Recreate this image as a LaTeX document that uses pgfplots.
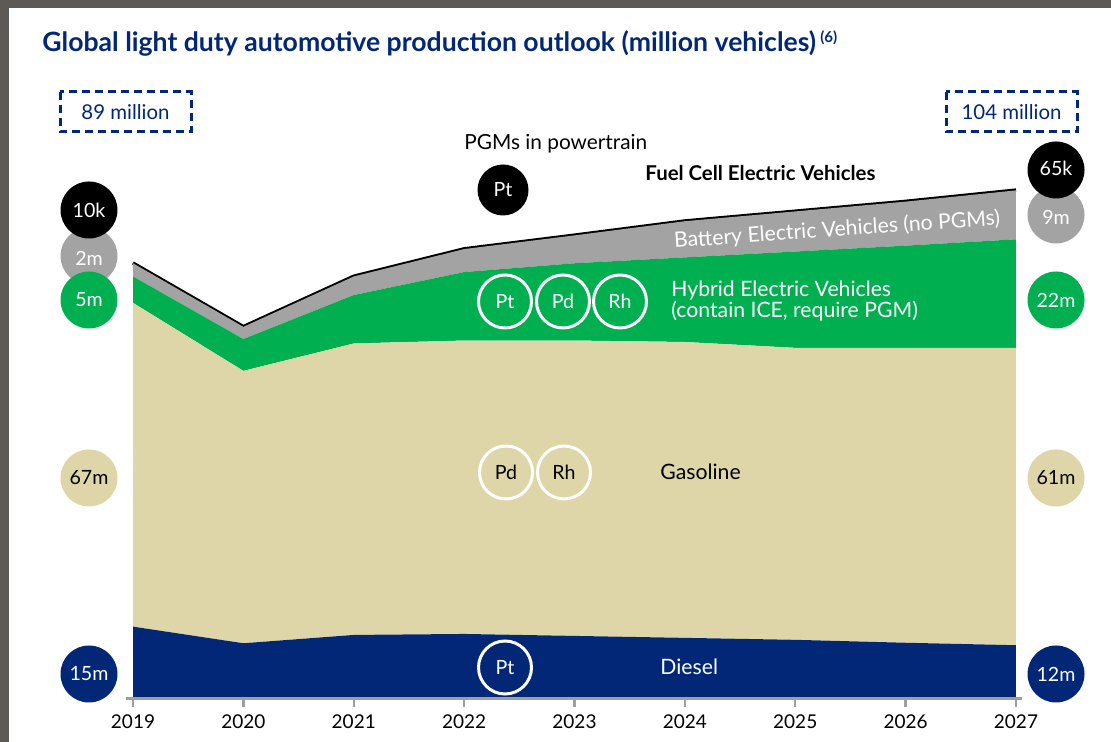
\documentclass[border=0pt]{standalone}
\usepackage{pgfplots}
\pgfplotsset{compat=1.18}
\usepackage{fontspec}
\setmainfont{Lato}
\definecolor{navy}{RGB}{1,39,118}
\definecolor{greenc}{RGB}{0,176,80}
\definecolor{greyc}{RGB}{163,163,163}
\definecolor{beige}{RGB}{222,214,168}
\definecolor{framec}{RGB}{93,89,87}
\newcommand{\fs}[1]{\fontsize{#1}{#1}\selectfont}
\tikzset{pix/.style={x=0.5pt,y=-0.5pt,shift={(0pt,371pt)}}}
\begin{document}
\begin{tikzpicture}
\begin{scope}[pix]
\useasboundingbox (0,0) rectangle (1111,742);
\fill[white] (0,0) rectangle (1111,742);
\fill[framec] (0,0) rectangle (1111,8.5);
\fill[framec] (0,0) rectangle (8.5,742);
\end{scope}

\begin{axis}[at={(66.5pt,21.5pt)}, anchor=south west, scale only axis,
  width=441.5pt, height=254.3pt,
  xmin=2019, xmax=2027, ymin=0, ymax=104, clip=false,
  stack plots=y, area style,
  axis y line=none, axis x line*=bottom,
  x axis line style={draw=gray!75, line width=1.5pt, -, shorten <=-3.5pt, shorten >=-3pt},
  xtick={2019,2020,2021,2022,2023,2024,2025,2026,2027},
  tick style={draw=gray!75, line width=1.2pt},
  major tick length=4pt, tick align=outside,
  xticklabel style={font=\fs{9.5}, text=black, /pgf/number format/1000 sep={}, yshift=-0.5pt},
  /pgf/number format/assume math mode=true,
  ]
\addplot[fill=navy, draw=none] coordinates {(2019,14.8) (2020,11.4) (2021,13.1) (2022,13.3) (2023,12.9) (2024,12.5) (2025,12.1) (2026,11.5) (2027,11.0)} \closedcycle;
\addplot[fill=beige, draw=none] coordinates {(2019,66.2) (2020,55.7) (2021,59.6) (2022,60.0) (2023,60.4) (2024,60.5) (2025,59.7) (2026,60.3) (2027,60.8)} \closedcycle;
\addplot[fill=greenc, draw=none] coordinates {(2019,5.4) (2020,6.5) (2021,9.9) (2022,14.0) (2023,15.8) (2024,17.3) (2025,19.7) (2026,20.9) (2027,22.2)} \closedcycle;
\addplot[fill=greyc, draw=none] coordinates {(2019,2.7) (2020,2.5) (2021,3.8) (2022,4.7) (2023,5.7) (2024,7.4) (2025,8.2) (2026,9.0) (2027,10.0)} \closedcycle;
\addplot[black, line width=1.7pt, fill=none] coordinates {(2019,0.05) (2020,0.05) (2021,0.05) (2022,0.05) (2023,0.05) (2024,0.05) (2025,0.05) (2026,0.06) (2027,0.065)};
\end{axis}

\begin{scope}[pix]
% title
\node[anchor=base west, inner sep=0, text=navy, font=\fs{13.3}\bfseries] at (42,52)
  {Global light duty automotive production outlook (million vehicles)\,\raisebox{0.7ex}{\fs{7.5}(6)}};
% dashed boxes
\draw[navy, line width=1.5pt, dash pattern=on 4pt off 2.5pt] (60,92) rectangle (191,132);
\node[text=navy, font=\fs{10.2}] at (125.5,112) {89 million};
\draw[navy, line width=1.5pt, dash pattern=on 4pt off 2.5pt] (946,92) rectangle (1077,132);
\node[text=navy, font=\fs{10.2}] at (1011.5,112) {104 million};
% left circles
\fill[greyc] (89,256) circle (28.5);
\fill[black] (89,210) circle (28.5);
\fill[greenc] (89,300) circle (28.5);
\fill[beige] (89,478) circle (28.5);
\fill[navy] (89,674) circle (28.5);
\node[white, font=\fs{9.8}] at (89,210) {10k};
\node[white, font=\fs{9.8}] at (89,258) {2m};
\node[white, font=\fs{9.8}] at (89,300) {5m};
\node[black, font=\fs{9.8}] at (89,478) {67m};
\node[white, font=\fs{9.8}] at (89,674) {15m};
% right circles
\fill[greyc] (1056,215) circle (28.5);
\fill[black] (1056,170) circle (28.5);
\fill[greenc] (1056,300) circle (28.5);
\fill[beige] (1056,478) circle (28.5);
\fill[navy] (1056,674) circle (28.5);
\node[white, font=\fs{9.8}] at (1056,168) {65k};
\node[white, font=\fs{9.8}] at (1056,217) {9m};
\node[white, font=\fs{9.8}] at (1056,300) {22m};
\node[black, font=\fs{9.8}] at (1056,478) {61m};
\node[white, font=\fs{9.8}] at (1056,674) {12m};
% annotations
\node[anchor=west, inner sep=0, font=\fs{10.4}] at (464,144) {PGMs in powertrain};
\fill[black] (503,190) circle (25.5);
\node[white, font=\fs{9.8}] at (503,190) {Pt};
\node[anchor=west, inner sep=0, font=\fs{10.2}\bfseries] at (645,173) {Fuel Cell Electric Vehicles};
\node[white, rotate=4, font=\fs{10.6}] at (837,230) {Battery Electric Vehicles (no PGMs)};
\foreach \xx/\lab in {505/Pt, 563/Pd, 620/Rh}{
  \draw[white, line width=1.5pt] (\xx,301.5) circle (26.5);
  \node[white, font=\fs{9.8}] at (\xx,301.5) {\lab};
}
\node[white, anchor=west, align=left, inner sep=0, font=\fs{10.6}] at (671,301)
  {\fontsize{10.6}{12}\selectfont Hybrid Electric Vehicles\\(contain ICE, require PGM)};
\foreach \xx/\lab in {506/Pd, 564/Rh}{
  \draw[white, line width=1.5pt] (\xx,472.5) circle (26.5);
  \node[black, font=\fs{9.8}] at (\xx,472.5) {\lab};
}
\node[black, anchor=west, inner sep=0, font=\fs{10.6}] at (660,472) {Gasoline};
\draw[white, line width=1.5pt] (505,667.5) circle (26.5);
\node[white, font=\fs{9.8}] at (505,667.5) {Pt};
\node[white, anchor=west, inner sep=0, font=\fs{10.6}] at (660,667) {Diesel};
\end{scope}
\end{tikzpicture}
\end{document}
